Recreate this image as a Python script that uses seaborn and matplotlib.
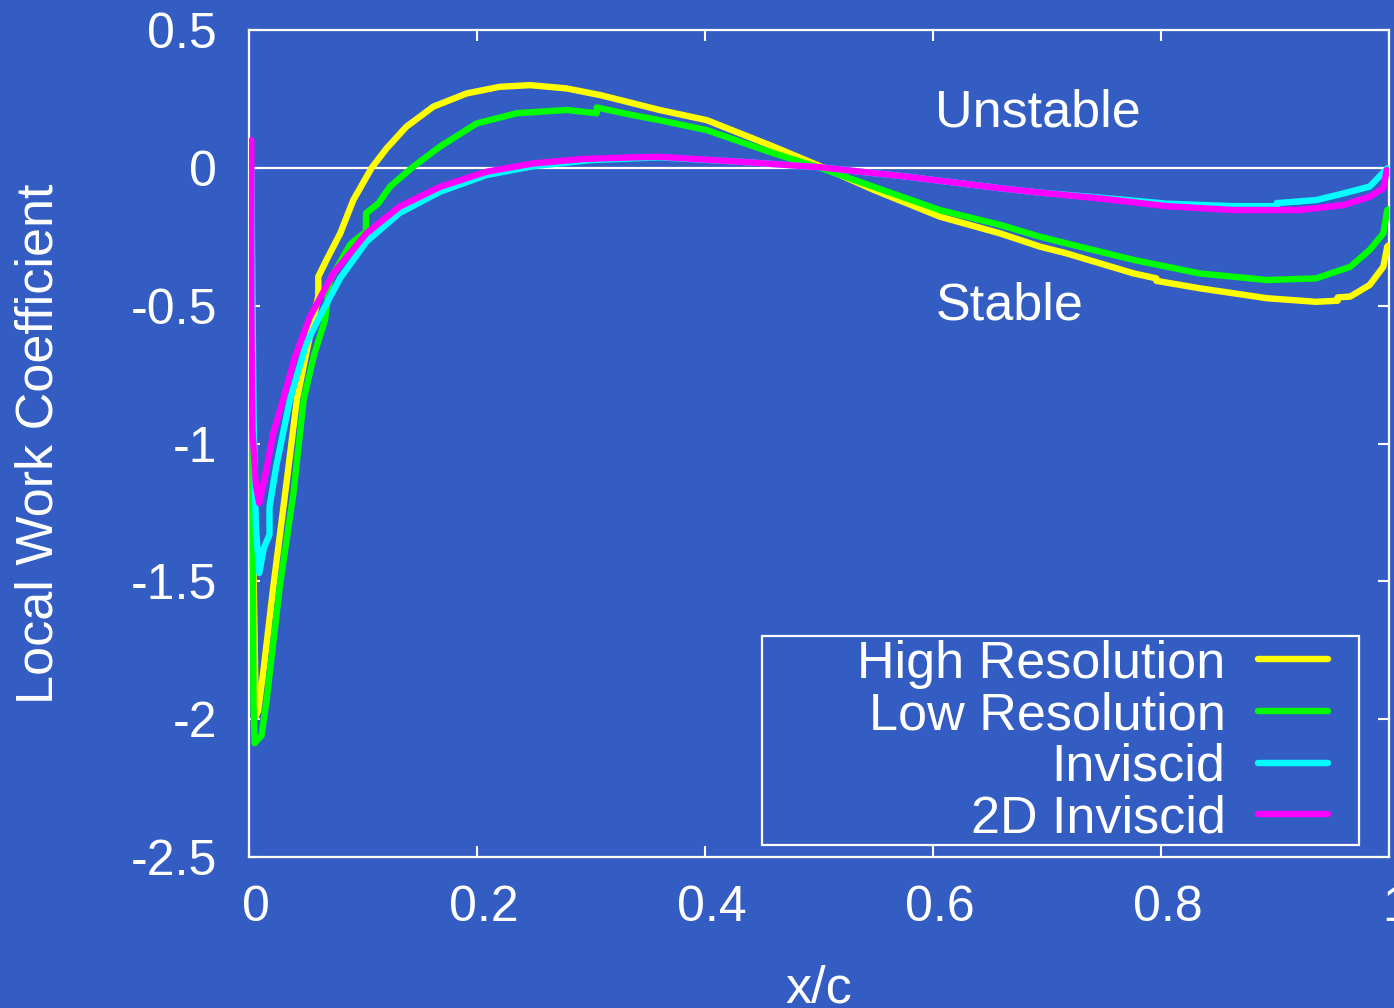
import matplotlib
matplotlib.use("Agg")
import matplotlib.pyplot as plt
import matplotlib.transforms as mtransforms
import seaborn as sns
import pandas as pd
from matplotlib.patches import Rectangle

# chord position / local work coefficient
high_x = [0.001, 0.003, 0.006, 0.008, 0.0125, 0.0213, 0.033, 0.042, 0.0506, 0.0608,
          0.0608, 0.068, 0.080, 0.0915, 0.1076, 0.1208, 0.138, 0.1617, 0.191, 0.220,
          0.2465, 0.2787, 0.308, 0.337, 0.360, 0.4015, 0.46, 0.501, 0.548, 0.606,
          0.659, 0.694, 0.717, 0.776, 0.796, 0.796, 0.834, 0.893, 0.936, 0.955,
          0.955, 0.966, 0.983, 0.995, 0.9985, 1.0]
high_y = [-0.21, -1.2, -1.99, -1.97, -1.83, -1.52, -1.14, -0.84, -0.665, -0.465,
          -0.395, -0.334, -0.238, -0.117, 0.0, 0.071, 0.149, 0.222, 0.270, 0.294,
          0.300, 0.288, 0.264, 0.234, 0.210, 0.173, 0.077, 0.006, -0.08, -0.177,
          -0.238, -0.286, -0.310, -0.383, -0.401, -0.41, -0.437, -0.473, -0.486, -0.482,
          -0.47, -0.467, -0.425, -0.359, -0.286, -0.28]

low_x = [0.002, 0.003, 0.004, 0.005, 0.011, 0.0155, 0.027, 0.039, 0.048, 0.057,
         0.0667, 0.071, 0.0886, 0.0915, 0.100, 0.1026, 0.1026, 0.1135, 0.1237, 0.144,
         0.1675, 0.1997, 0.2348, 0.2787, 0.305, 0.305, 0.337, 0.360, 0.4015, 0.46,
         0.501, 0.548, 0.606, 0.659, 0.694, 0.717, 0.776, 0.834, 0.893, 0.936,
         0.966, 0.983, 0.995, 0.9985, 1.0]
low_y = [-0.28, -1.2, -1.95, -2.087, -2.06, -1.93, -1.52, -1.18, -0.84, -0.68,
         -0.552, -0.407, -0.279, -0.268, -0.24, -0.232, -0.165, -0.129, -0.068, 0.004,
         0.077, 0.161, 0.198, 0.210, 0.198, 0.219, 0.191, 0.173, 0.137, 0.053,
         0.0, -0.069, -0.153, -0.207, -0.25, -0.274, -0.334, -0.383, -0.407, -0.401,
         -0.359, -0.298, -0.238, -0.153, -0.15]

inv_x = [0.002, 0.004, 0.006, 0.009, 0.013, 0.018, 0.018, 0.024, 0.036, 0.050,
         0.062, 0.080, 0.103, 0.132, 0.1675, 0.2085, 0.2494, 0.30, 0.36, 0.4307,
         0.501, 0.577, 0.659, 0.694, 0.7465, 0.805, 0.8635, 0.9015, 0.9015, 0.936,
         0.96, 0.983, 0.9985]
inv_y = [0.0, -0.9, -1.3, -1.47, -1.38, -1.33, -1.23, -1.08, -0.84, -0.64,
         -0.54, -0.40, -0.268, -0.164, -0.087, -0.026, 0.006, 0.028, 0.038, 0.022,
         0.002, -0.032, -0.074, -0.09, -0.108, -0.13, -0.139, -0.139, -0.128, -0.117,
         -0.093, -0.068, -0.002]

inv2d_x = [0.002, 0.002, 0.003, 0.006, 0.009, 0.015, 0.0213, 0.030, 0.040, 0.0535,
           0.074, 0.103, 0.132, 0.1675, 0.2085, 0.2494, 0.293, 0.337, 0.360, 0.4307,
           0.501, 0.577, 0.659, 0.694, 0.7465, 0.805, 0.8635, 0.922, 0.96, 0.983,
           0.995, 0.998]
inv2d_y = [0.1, -0.5, -0.95, -1.15, -1.217, -1.1, -0.963, -0.84, -0.69, -0.54,
           -0.383, -0.238, -0.141, -0.069, -0.014, 0.016, 0.032, 0.038, 0.040, 0.022,
           0.002, -0.032, -0.074, -0.09, -0.111, -0.139, -0.153, -0.153, -0.135, -0.105,
           -0.074, -0.008]

series = [
    ("High Resolution", high_x, high_y, "#ffff00"),
    ("Low Resolution", low_x, low_y, "#00ff00"),
    ("Inviscid", inv_x, inv_y, "#00ffff"),
    ("2D Inviscid", inv2d_x, inv2d_y, "#ff00ff"),
]

x_ticks = [0, 0.2, 0.4, 0.6, 0.8, 1]
x_ticklabels = ["0", "0.2", "0.4", "0.6", "0.8", "1"]
y_ticks = [-2.5, -2, -1.5, -1, -0.5, 0, 0.5]
y_ticklabels = ["-2.5", "-2", "-1.5", "-1", "-0.5", "0", "0.5"]

bg = "#345dc4"
fg = "white"

sns.set_style("ticks")
plt.rcParams["font.family"] = ["Liberation Sans", "DejaVu Sans"]

fig = plt.figure(figsize=(13.94, 10.08), dpi=100, facecolor=bg)
ax = fig.add_axes([249 / 1394, 151 / 1008, 1140 / 1394, 827 / 1008])
ax.set_facecolor(bg)

ax.axhline(0, color=fg, lw=1.6, zorder=1)

for name, xs, ys, col in series:
    df = pd.DataFrame({"x": xs, "y": ys})
    sns.lineplot(data=df, x="x", y="y", sort=False, estimator=None, color=col,
                 lw=4.6, label=name, ax=ax, zorder=3)

ax.set_xlim(0, 1)
ax.set_ylim(-2.5, 0.5)
ax.set_xticks(x_ticks, x_ticklabels)
ax.set_yticks(y_ticks, y_ticklabels)
ax.tick_params(direction="in", length=8, width=1.5, color=fg, labelcolor=fg,
               labelsize=36, top=True, right=True)
ax.tick_params(axis="y", pad=23)
ax.tick_params(axis="x", pad=20)
# gnuplot puts the x labels a little to the right of the ticks
shift = mtransforms.ScaledTranslation(0.07, 0, fig.dpi_scale_trans)
for lab in ax.get_xticklabels():
    lab.set_transform(lab.get_transform() + shift)
for s in ax.spines.values():
    s.set_color(fg)
    s.set_linewidth(1.6)

ax.set_xlabel("x/c", fontsize=37.5, color=fg)
ax.set_ylabel("Local Work Coefficient", fontsize=37.5, color=fg)
ax.xaxis.set_label_coords(0.5, -0.13)
ax.yaxis.set_label_coords(-0.163, 0.5)

ax.text(0.602, 0.199, "Unstable", fontsize=37.5, color=fg, va="center")
ax.text(0.602, -0.50, "Stable", fontsize=37.5, color=fg, va="center")

# legend: gnuplot-style, text right-aligned with the sample on the right
leg = ax.legend(loc="center right", bbox_to_anchor=(0.9465, 0.1397), frameon=False,
                markerfirst=False, fontsize=37.5, handlelength=1.35, handletextpad=0.62,
                labelspacing=0.05, borderpad=0, borderaxespad=0)
for t in leg.get_texts():
    t.set_color(fg)
ax.add_patch(Rectangle((0.45, 0.0145), 0.524, 0.2527, transform=ax.transAxes,
                       fill=False, edgecolor=fg, lw=1.6, zorder=5))

fig.savefig("out.png", dpi=100, facecolor=bg)
